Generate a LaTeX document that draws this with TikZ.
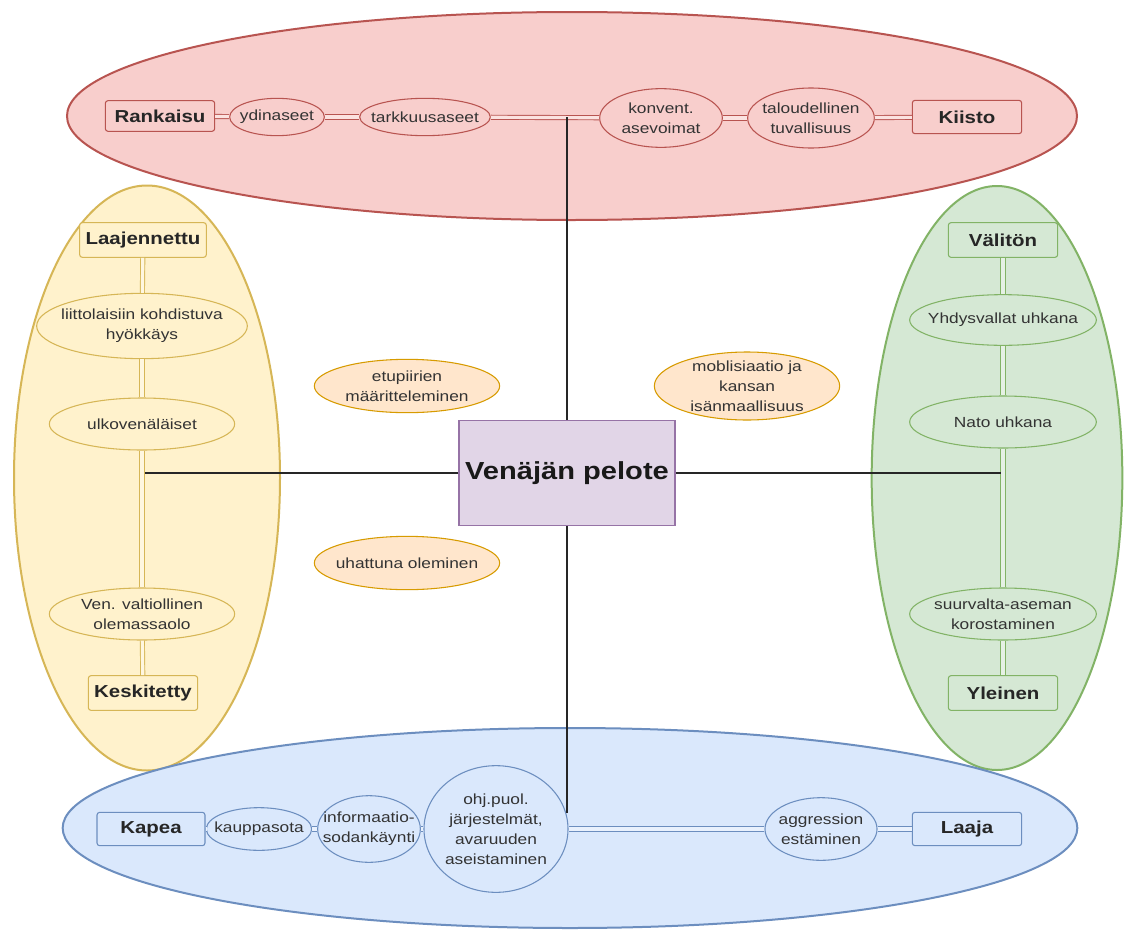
\documentclass[tikz,border=0pt]{standalone}
\usepackage{fontspec}
\setmainfont{Liberation Sans}[FakeStretch=1.18]
\usetikzlibrary{shapes.geometric}
\definecolor{rfill}{HTML}{F8CECC}\definecolor{rline}{HTML}{B85450}
\definecolor{yfill}{HTML}{FFF2CC}\definecolor{yline}{HTML}{D6B656}
\definecolor{gfill}{HTML}{D5E8D4}\definecolor{gline}{HTML}{82B366}
\definecolor{bfill}{HTML}{DAE8FC}\definecolor{bline}{HTML}{6C8EBF}
\definecolor{ofill}{HTML}{FFE6CC}\definecolor{oline}{HTML}{D79B00}
\definecolor{pfill}{HTML}{E1D5E7}\definecolor{pline}{HTML}{9673A6}
\tikzset{
  grp/.style={ellipse, inner sep=0pt, line width=1.5pt},
  lbl/.style={rectangle, rounded corners=2pt, inner sep=0pt, line width=0.8pt,
    font=\bfseries\fontsize{13}{15}\selectfont, text=black!85},
  el/.style={ellipse, inner sep=0pt, line width=0.8pt},
  lt/.style={align=center, inner sep=0pt, text=black!80,
    font=\fontsize{11}{15}\selectfont},
  txt/.style={label={[lt]center:{#1}}},
  rset/.style={draw=rline, fill=rfill},
  yset/.style={draw=yline, fill=yfill},
  gset/.style={draw=gline, fill=gfill},
  bset/.style={draw=bline, fill=bfill},
  oset/.style={draw=oline, fill=ofill},
  dl/.style={draw=#1line, double=#1fill!60!white, double distance=2.4pt, line width=0.7pt},
  conn/.style={draw=black!85, line width=0.8pt},
  sz/.style n args={2}{minimum width=#1pt, minimum height=#2pt},
}
\begin{document}
\begin{tikzpicture}[x=0.75pt, y=-0.75pt]
\useasboundingbox (0,0) rectangle (1124,935);
\fill[white] (0,0) rectangle (1124,935);

% group ellipses
\node[grp, rset, sz={757.5}{156}] (redgrp) at (572,116) {};
\node[grp, yset, sz={199.5}{438.75}] (yelgrp) at (147,478) {};
\node[grp, gset, sz={188}{438}] (grngrp) at (997,478) {};
\node[grp, bset, sz={761}{150}] (blugrp) at (570,828) {};

% red chain
\node[lbl, rset, sz={82}{23}] (rank) at (160,116) {Rankaisu};
\node[el, rset, sz={71}{28}, txt={ydinaseet}] (ydin) at (277,117) {};
\node[el, rset, sz={98}{28}, txt={tarkkuusaseet}] (tark) at (425,117) {};
\node[el, rset, sz={92}{44}, txt={konvent.\\asevoimat}] (konv) at (661,118) {};
\node[el, rset, sz={95}{45}, txt={taloudellinen\\tuvallisuus}] (talo) at (811,118) {};
\node[lbl, rset, sz={82}{25}] (kiis) at (967,117) {Kiisto};
\path[dl=r] (rank) -- (ydin);
\path[dl=r] (ydin) -- (tark);
\path[dl=r] (tark) -- (konv);
\path[dl=r] (konv) -- (talo);
\path[dl=r] (talo) -- (kiis);
\coordinate (rj) at (567,117);

% yellow chain
\node[lbl, yset, sz={95}{26}] (laaj) at (143,240) {Laajennettu};
\node[el, yset, sz={158}{49}, txt={liittolaisiin kohdistuva\\hyökkäys}] (liit) at (142,326) {};
\node[el, yset, sz={139}{39}, txt={ulkovenäläiset}] (ulko) at (142,424) {};
\node[el, yset, sz={139}{39}, txt={Ven. valtiollinen\\olemassaolo}] (valt) at (142,614) {};
\node[lbl, yset, sz={82}{26}] (kesk) at (143,693) {Keskitetty};
\path[dl=y] (laaj) -- (liit);
\path[dl=y] (liit) -- (ulko);
\path[dl=y] (ulko) -- (valt);
\path[dl=y] (valt) -- (kesk);
\coordinate (yj) at (145,473);

% green chain
\node[lbl, gset, sz={82}{26}] (vali) at (1003,240) {Välitön};
\node[el, gset, sz={140}{38}, txt={Yhdysvallat uhkana}] (yhdy) at (1003,320) {};
\node[el, gset, sz={140}{39}, txt={Nato uhkana}] (nato) at (1003,422) {};
\node[el, gset, sz={140}{39}, txt={suurvalta-aseman\\korostaminen}] (suur) at (1003,614) {};
\node[lbl, gset, sz={82}{26}] (ylei) at (1003,693) {Yleinen};
\path[dl=g] (vali) -- (yhdy);
\path[dl=g] (yhdy) -- (nato);
\path[dl=g] (nato) -- (suur);
\path[dl=g] (suur) -- (ylei);
\coordinate (gj) at (1001,473);

% blue chain
\node[lbl, bset, sz={81}{25}] (kape) at (151,829) {Kapea};
\node[el, bset, sz={79}{32}, txt={kauppasota}] (kaup) at (259,829) {};
\node[el, bset, sz={77}{50}, txt={informaatio-\\sodankäynti}] (info) at (369,829) {};
\node[el, bset, sz={108}{95}, txt={ohj.puol.\\järjestelmät,\\avaruuden\\aseistaminen}] (ohj) at (496,829) {};
\node[el, bset, sz={84}{47}, txt={aggression\\estäminen}] (aggr) at (821,829) {};
\node[lbl, bset, sz={82}{25}] (laja) at (967,829) {Laaja};
\path[dl=b] (kape) -- (kaup);
\path[dl=b] (kaup) -- (info);
\path[dl=b] (info) -- (ohj);
\path[dl=b] (ohj) -- (aggr);
\path[dl=b] (aggr) -- (laja);
\coordinate (bj) at (567,813);

% orange notes
\node[el, oset, sz={139}{40}, txt={etupiirien\\määritteleminen}] (etup) at (407,386) {};
\node[el, oset, sz={139}{51}, txt={moblisiaatio ja\\kansan\\isänmaallisuus}] (mobi) at (747,386) {};
\node[el, oset, sz={139}{40}, txt={uhattuna oleminen}] (uhat) at (407,563) {};

% centre
\node[rectangle, draw=pline, fill=pfill, line width=0.8pt, sz={162}{79}, text=black!90,
  font=\bfseries\fontsize{18.5}{20}\selectfont] (vena) at (567,473) {Venäjän pelote};
\draw[conn] (vena.north) -- (rj);
\draw[conn] (vena.west) -- (yj);
\draw[conn] (vena.east) -- (gj);
\draw[conn] (vena.south) -- (bj);
\end{tikzpicture}
\end{document}
